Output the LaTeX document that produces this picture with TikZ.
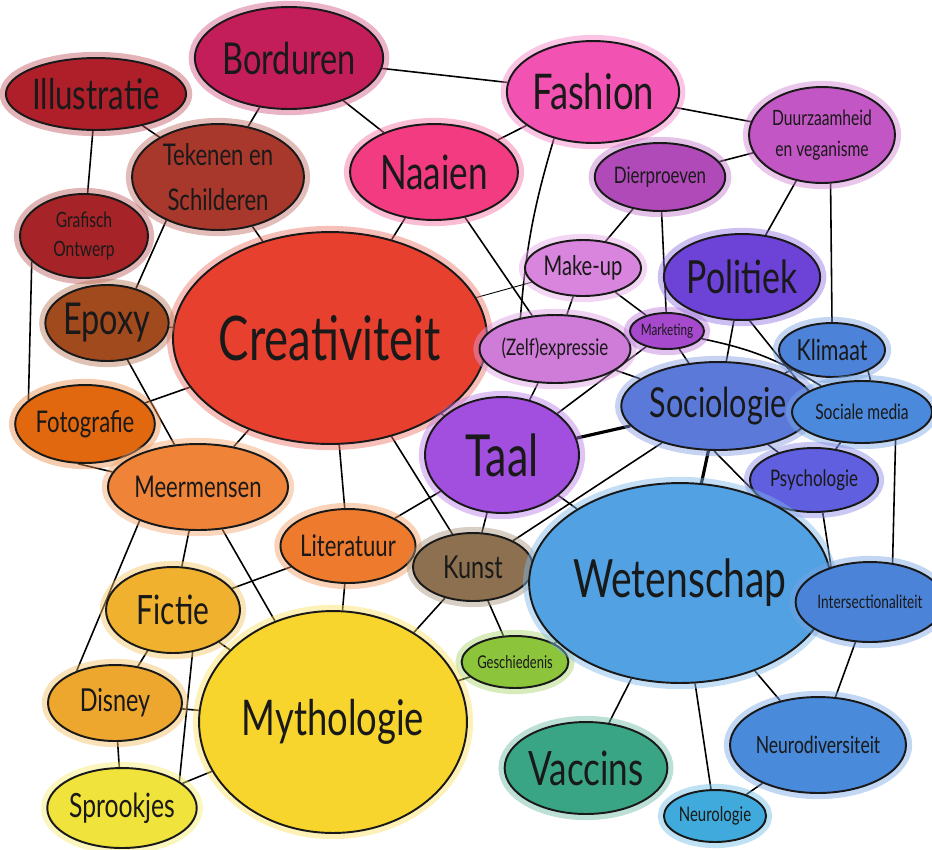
\documentclass[tikz,border=0pt]{standalone}
\usepackage{fontspec}
\setmainfont{Lato}[FakeStretch=0.74]
\usetikzlibrary{shapes.geometric,backgrounds}

% bubble colours
\definecolor{crearood}{HTML}{E8402F}
\definecolor{bordrood}{HTML}{C41E5A}
\definecolor{illurood}{HTML}{AE1F2A}
\definecolor{tekerood}{HTML}{A8382C}
\definecolor{grafrood}{HTML}{A62428}
\definecolor{epoxbruin}{HTML}{A04A1E}
\definecolor{fotooranje}{HTML}{E2680F}
\definecolor{meeroranje}{HTML}{EF8438}
\definecolor{liteoranje}{HTML}{EE7A2E}
\definecolor{fictgeel}{HTML}{F0B12E}
\definecolor{disngeel}{HTML}{EDA62E}
\definecolor{sprogeel}{HTML}{EFE33C}
\definecolor{mythgeel}{HTML}{F8D52C}
\definecolor{kunsbruin}{HTML}{8C7050}
\definecolor{gescgroen}{HTML}{8CC43C}
\definecolor{taalpaars}{HTML}{A24FE0}
\definecolor{naairoze}{HTML}{F23B80}
\definecolor{fashroze}{HTML}{F252B2}
\definecolor{duurpaars}{HTML}{C256C4}
\definecolor{dierpaars}{HTML}{B04AB8}
\definecolor{makeroze}{HTML}{D985DD}
\definecolor{zelfroze}{HTML}{CF7BD8}
\definecolor{markpaars}{HTML}{A649CC}
\definecolor{polipaars}{HTML}{6D42D6}
\definecolor{klimblauw}{HTML}{4C83D9}
\definecolor{socblauw}{HTML}{5A79D9}
\definecolor{somdblauw}{HTML}{4A89DB}
\definecolor{psycblauw}{HTML}{5F5FDF}
\definecolor{weteblauw}{HTML}{52A1E2}
\definecolor{inteblauw}{HTML}{4A83D8}
\definecolor{neudblauw}{HTML}{4A8ADB}
\definecolor{neulblauw}{HTML}{3FAADB}
\definecolor{vaccgroen}{HTML}{3AA585}

\begin{document}
\begin{tikzpicture}[x=0.02cm, y=-0.02cm,
  bubble/.style={ellipse, draw=black!90, line width=1.1pt, inner sep=0pt,
    align=center, text=black!90, fill=#1,
    preaction={draw=#1!75, line width=7pt, draw opacity=0.45}},
  rad/.style 2 args={minimum width=#1*0.04cm, minimum height=#2*0.04cm},
  fsz/.style={font=\fontsize{#1}{#1}\selectfont},
  link/.style={line width=0.9pt},
  thicklink/.style={line width=1.8pt},
  thinlink/.style={line width=0.5pt}]
  \useasboundingbox (0,0) rectangle (932,849);

  % The red / crafts corner.
  \node[bubble=crearood, rad={135}{106}, fsz=35] (crea) at (330,338) {Creativiteit};
  \node[bubble=bordrood, rad={94}{51}, fsz=25] (bord) at (289,58) {Borduren};
  \node[bubble=illurood, rad={72}{36}, fsz=24] (illu) at (96,94) {Illustratie};
  \node[bubble=tekerood, rad={86}{53}, fsz=17] (teke) at (218,177) {Tekenen en\\[0.5em]Schilderen};
  \node[bubble=grafrood, rad={64}{42}, fsz=12] (graf) at (84,236) {Grafisch\\[0.4em]Ontwerp};
  \node[bubble=epoxbruin, rad={61}{38}, fsz=25] (epox) at (107,323) {Epoxy};
  \node[bubble=fotooranje, rad={67}{39}, fsz=17] (foto) at (85,424) {Fotografie};
  \node[bubble=naairoze, rad={84}{48}, fsz=27] (naai) at (434,172) {Naaien};
  \node[bubble=fashroze, rad={79}{51}, fsz=28] (fash) at (593,92) {Fashion};

  % The orange / yellow stories.
  \node[bubble=meeroranje, rad={73}{43}, fsz=17] (meer) at (198,487) {Meermensen};
  \node[bubble=liteoranje, rad={65}{37}, fsz=17] (lite) at (348,546) {Literatuur};
  \node[bubble=fictgeel, rad={67}{43}, fsz=23] (fict) at (173,610) {Fictie};
  \node[bubble=disngeel, rad={67}{38}, fsz=18] (disn) at (115,703) {Disney};
  \node[bubble=sprogeel, rad={63}{40}, fsz=19] (spro) at (122,808) {Sprookjes};
  \node[bubble=mythgeel, rad={134}{111}, fsz=28] (myth) at (333,722) {Mythologie};
  \node[bubble=kunsbruin, rad={60}{34}, fsz=18] (kuns) at (473,567) {Kunst};
  \node[bubble=gescgroen, rad={52}{26}, fsz=10] (gesc) at (515,662) {Geschiedenis};

  % The purple middle.
  \node[bubble=taalpaars, rad={77}{58}, fsz=33] (taal) at (502,455) {Taal};
  \node[bubble=duurpaars, rad={73}{48}, fsz=12] (duur) at (822,135) {Duurzaamheid\\[0.45em]en veganisme};
  \node[bubble=dierpaars, rad={58}{34}, fsz=13] (dier) at (660,177) {Dierproeven};
  \node[bubble=makeroze, rad={58}{28}, fsz=15.5] (make) at (583,268) {Make-up};
  \node[bubble=zelfroze, rad={70}{34}, fsz=13] (zelf) at (555,349) {(Zelf)expressie};
  \node[bubble=markpaars, rad={37}{18}, fsz=9] (mark) at (667,331) {Marketing};
  \node[bubble=polipaars, rad={70}{43}, fsz=26] (poli) at (742,277) {Politiek};

  % The blue science side.
  \node[bubble=klimblauw, rad={53}{27}, fsz=16.5] (klim) at (832,350) {Klimaat};
  \node[bubble=socblauw, rad={72}{44}, fsz=23.5] (soci) at (718,406) {Sociologie};
  \node[bubble=somdblauw, rad={70}{31}, fsz=12] (somd) at (862,412) {Sociale media};
  \node[bubble=psycblauw, rad={64}{32}, fsz=13] (psyc) at (814,480) {Psychologie};
  \node[bubble=weteblauw, rad={125}{100}, fsz=30] (wete) at (680,583) {Wetenschap};
  \node[bubble=inteblauw, rad={62}{40}, fsz=10.5] (inte) at (870,602) {Intersectionaliteit};
  \node[bubble=neudblauw, rad={72}{48}, fsz=13.5] (neud) at (818,745) {Neurodiversiteit};
  \node[bubble=neulblauw, rad={48}{26}, fsz=11.5] (neul) at (715,816) {Neurologie};
  \node[bubble=vaccgroen, rad={79}{46}, fsz=27] (vacc) at (586,768) {Vaccins};

  % Draw all the links behind the bubbles.
  \begin{scope}[on background layer]
    \draw[link] (bord) -- (fash);
    \draw[link] (bord) -- (naai);
    \draw[link] (bord) -- (teke);
    \draw[link] (illu) -- (teke);
    \draw[link] (illu) -- (graf);
    \draw[link] (graf.206) -- (foto.157);
    \draw[link] (teke.-140) -- (epox.50);
    \draw[link] (teke) -- (crea);
    \draw[link] (epox) -- (crea);
    \draw[link] (epox) -- (meer);
    \draw[link] (foto) -- (crea);
    \draw[link] (foto.-100) -- (meer.170);
    \draw[link] (meer) -- (crea);
    \draw[link] (naai) -- (crea);
    \draw[link] (naai) -- (fash);
    \draw[link] (naai) -- (zelf);
    \draw[link] (fash.-130) to[bend right=6] (zelf.138);
    \draw[link] (fash) -- (duur);
    \draw[link] (duur) -- (dier);
    \draw[link] (duur) -- (poli);
    \draw[link] (duur.-80) -- (klim.90);
    \draw[link] (dier) -- (make);
    \draw[link] (dier) -- (mark);
    \draw[thinlink] (make) -- (crea);
    \draw[link] (make) -- (zelf);
    \draw[link] (make) -- (mark);
    \draw[link] (zelf) -- (crea);
    \draw[link] (zelf) -- (taal);
    \draw[link] (zelf) -- (soci);
    \draw[link] (mark) -- (taal);
    \draw[link] (mark) -- (soci);
    \draw[link] (mark) to[bend left=10] (somd);
    \draw[link] (poli) -- (soci);
    \draw[link] (poli.-80) -- (somd.160);
    \draw[link] (klim) -- (soci);
    \draw[link] (klim.-30) -- (somd.75);
    \draw[thicklink] (soci) -- (taal);
    \draw[link] (soci) -- (kuns);
    \draw[link] (taal) -- (wete);
    \draw[link] (taal) -- (kuns);
    \draw[link] (taal) -- (crea);
    \draw[link] (taal) -- (lite);
    \draw[link] (crea) -- (kuns);
    \draw[link] (crea) -- (lite);
    \draw[link] (kuns) -- (wete);
    \draw[link] (kuns) -- (gesc);
    \draw[link] (kuns) -- (myth);
    \draw[link] (kuns) -- (lite);
    \draw[link] (lite) -- (myth);
    \draw[link] (lite) -- (fict);
    \draw[link] (meer) -- (fict);
    \draw[link] (meer) -- (myth);
    \draw[link] (meer.-150) -- (disn.140);
    \draw[link] (fict) -- (disn);
    \draw[link] (fict) -- (myth);
    \draw[link] (fict.-65) -- (spro.25);
    \draw[link] (disn) -- (spro);
    \draw[link] (disn) -- (myth);
    \draw[link] (spro) -- (myth);
    \draw[link] (gesc) -- (myth);
    \draw[link] (gesc) -- (wete);
    \draw[thicklink] (wete) -- (soci);
    \draw[link] (wete) -- (vacc);
    \draw[link] (wete) -- (neul);
    \draw[link] (wete) -- (neud);
    \draw[link] (wete) -- (psyc);
    \draw[link] (soci.-95) -- (inte.140);
    \draw[link] (psyc.-75) -- (inte.138);
    \draw[link] (somd.-40) -- (inte.60);
    \draw[link] (somd) -- (psyc);
    \draw[link] (soci) -- (psyc);
    \draw[link] (inte) -- (neud);
    \draw[link] (neud) -- (neul);
  \end{scope}
\end{tikzpicture}
\end{document}
